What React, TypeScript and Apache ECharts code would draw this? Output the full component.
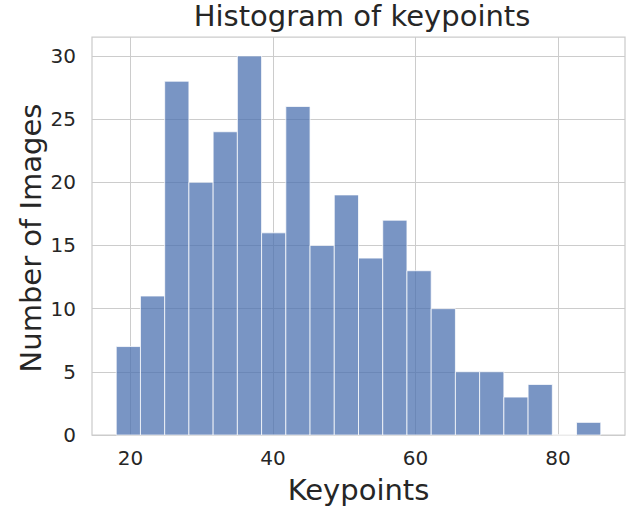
import React, { useEffect, useRef } from "react";
import * as echarts from "echarts";

const binEdges = [18, 21.4, 24.8, 28.2, 31.6, 35, 38.4, 41.8, 45.2, 48.6, 52, 55.4, 58.8, 62.2, 65.6, 69, 72.4, 75.8, 79.2, 82.6, 86];
const counts = [7, 11, 28, 20, 24, 30, 16, 26, 15, 19, 14, 17, 13, 10, 5, 5, 3, 4, 0, 1];
const xTicks = [20, 40, 60, 80];
const yTicks = [0, 5, 10, 15, 20, 25, 30];

const TEXT = "#262626";
const FONT = "DejaVu Sans";

export default function App() {
  const ref = useRef<HTMLDivElement>(null);
  useEffect(() => {
    if (!ref.current) return;
    const chart = echarts.init(ref.current, undefined, { renderer: "svg" });
    const data = counts.map((c, i) => [binEdges[i], binEdges[i + 1], c]);
    chart.setOption({
      animation: false,
      backgroundColor: "#ffffff",
      grid: {
        left: 92,
        right: 6,
        top: 37,
        bottom: 72,
        show: true,
        borderColor: "#cccccc",
        borderWidth: 1.25,
        backgroundColor: "transparent",
      },
      xAxis: {
        type: "value",
        min: 14.6,
        max: 89.4,
        axisLine: { show: false },
        axisTick: { show: false, customValues: xTicks },
        axisLabel: {
          customValues: xTicks,
          fontSize: 20,
          lineHeight: 20,
          color: TEXT,
          fontFamily: FONT,
          margin: 13,
        },
        splitLine: { show: true, lineStyle: { color: "#cccccc", width: 1 } },
      },
      yAxis: {
        type: "value",
        min: 0,
        max: 31.5,
        axisLine: { show: false },
        axisTick: { show: false, customValues: yTicks },
        axisLabel: {
          customValues: yTicks,
          fontSize: 20,
          color: TEXT,
          fontFamily: FONT,
          margin: 16,
        },
        splitLine: { show: true, lineStyle: { color: "#cccccc", width: 1 } },
      },
      series: [
        {
          type: "custom",
          data,
          encode: { x: [0, 1], y: 2 },
          renderItem: (params: any, api: any) => {
            const p0 = api.coord([api.value(0), api.value(2)]);
            const p1 = api.coord([api.value(1), 0]);
            return {
              type: "rect",
              shape: { x: p0[0], y: p0[1], width: p1[0] - p0[0], height: p1[1] - p0[1] },
              style: { fill: "#4C72B0", stroke: "#ffffff", lineWidth: 1, opacity: 0.75 },
            };
          },
        },
      ],
      graphic: [
        {
          type: "text",
          x: 362,
          y: 16,
          style: {
            text: "Histogram of keypoints",
            fontSize: 29,
            fontFamily: FONT,
            fill: TEXT,
            align: "center",
            verticalAlign: "middle",
          },
        },
        {
          type: "text",
          x: 358.5,
          y: 490,
          style: {
            text: "Keypoints",
            fontSize: 29,
            fontFamily: FONT,
            fill: TEXT,
            align: "center",
            verticalAlign: "middle",
          },
        },
        {
          type: "text",
          x: 31,
          y: 238,
          rotation: Math.PI / 2,
          style: {
            text: "Number of Images",
            fontSize: 29,
            fontFamily: FONT,
            fill: TEXT,
            align: "center",
            verticalAlign: "middle",
          },
        },
      ],
    });
    return () => chart.dispose();
  }, []);
  return (
    <div
      ref={ref}
      style={{ position: "fixed", left: 0, top: 0, width: 631, height: 507 }}
    />
  );
}
